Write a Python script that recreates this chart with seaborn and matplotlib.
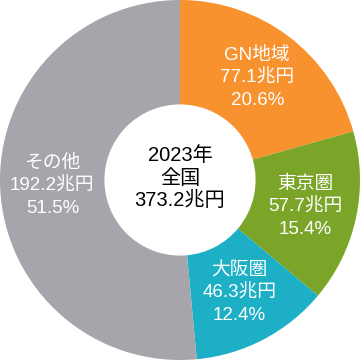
import matplotlib
matplotlib.use('Agg')
import matplotlib.pyplot as plt
import seaborn as sns
import numpy as np

regions = ['GN地域', '東京圏', '大阪圏', 'その他']
amounts = [77.1, 57.7, 46.3, 192.2]
shares = ['20.6%', '15.4%', '12.4%', '51.5%']
colors = ['#F7922F', '#7BA529', '#1CAFC5', '#A6A5AB']
center_lines = ['2023年', '全国', '373.2兆円']

sns.set_theme(style='white')
plt.rcParams['font.family'] = ['Liberation Sans', 'Noto Sans CJK JP', 'DejaVu Sans']

fig = plt.figure(figsize=(3.6, 3.6), dpi=100)
ax = fig.add_axes([0, 0, 1, 1])

wedges, _ = ax.pie(amounts, colors=colors, startangle=90, counterclock=False,
                   radius=1.0, wedgeprops=dict(width=0.58, linewidth=0))

for w, name, amt, pct in zip(wedges, regions, amounts, shares):
    mid = np.deg2rad((w.theta1 + w.theta2) / 2)
    r = 0.71
    ax.text(r * np.cos(mid), r * np.sin(mid), f'{name}\n{amt}兆円\n{pct}',
            ha='center', va='center', color='white', fontsize=13.5,
            linespacing=1.4)

ax.text(0, 0.01, '\n'.join(center_lines), ha='center', va='center',
        color='black', fontsize=14.5, linespacing=1.25)

ax.set_xlim(-1, 1)
ax.set_ylim(-1, 1)
ax.set_aspect('equal')
ax.axis('off')
fig.savefig('out.png', dpi=100, facecolor='white')
